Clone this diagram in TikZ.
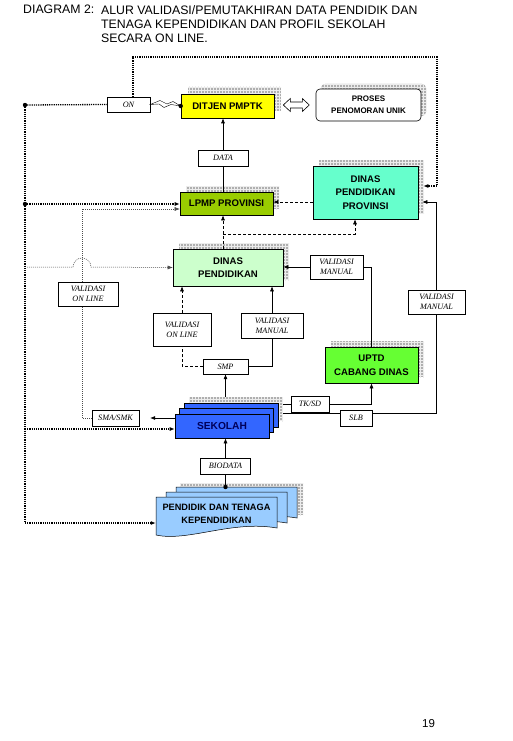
\documentclass[tikz,border=0pt]{standalone}
\usepackage{fontspec}
\setmainfont{Liberation Sans}
\newfontfamily\notefont{Liberation Serif}
\usepackage{tikz}
\usetikzlibrary{arrows.meta, positioning, calc, patterns, shadows}
\definecolor{ditjenyellow}{RGB}{255, 255, 0}
\definecolor{lpmpgreen}{RGB}{153, 204, 0}
\definecolor{provaqua}{RGB}{102, 255, 204}
\definecolor{dinasmint}{RGB}{204, 255, 204}
\definecolor{uptdgreen}{RGB}{102, 255, 51}
\definecolor{sekolahblue}{RGB}{51, 102, 255}
\definecolor{sekolahink}{RGB}{0, 0, 90}
\definecolor{pendblue}{RGB}{153, 204, 255}
\definecolor{shadowgray}{RGB}{175, 175, 175}

\begin{document}
\begin{tikzpicture}[
  x=1pt, y=-1pt,
  >={Latex[length=5pt, width=4pt]},
  flowbox/.style={draw, line width=0.6pt, inner sep=0pt, align=center, font=\bfseries\fontsize{9.6}{13.5}\selectfont},
  gridshadow/.style={general shadow={shadow xshift=#1, shadow yshift=#1, fill=shadowgray},
    general shadow={shadow xshift=#1, shadow yshift=#1, pattern=grid, pattern color=white!85!gray}},
  gridshadow/.default=6pt,
  notebox/.style={draw, line width=0.4pt, fill=white, inner sep=0pt, align=center, font=\notefont\itshape\fontsize{8.2}{10}\selectfont},
  thickdot/.style={line width=1.3pt, dash pattern=on 1.2pt off 1pt},
  thindot/.style={line width=0.5pt, black!70, dash pattern=on 1pt off 1pt},
  dashline/.style={line width=0.6pt, dash pattern=on 3pt off 2pt},
  link/.style={line width=0.6pt}
]
  \fill[white] (0,0) rectangle (512,741);
  \useasboundingbox (0,0) rectangle (512,741);

  % title and page number
  \node[anchor=north west, inner sep=0pt, font=\fontsize{12.3}{14}\selectfont] (titlehead) at (23,5) {DIAGRAM 2:};
  \node[anchor=north west, inner sep=0pt, align=left, font=\fontsize{12.3}{14}\selectfont] (titlebody) at (101,5) {
    ALUR VALIDASI/PEMUTAKHIRAN DATA PENDIDIK DAN\\
    TENAGA KEPENDIDIKAN DAN PROFIL SEKOLAH\\
    SECARA ON LINE.
  };
  \node[font=\fontsize{11.5}{13}\selectfont] (pagenum) at (428.5,724) {19};

  % main boxes
  \node[flowbox, gridshadow=7pt, fill=ditjenyellow, minimum width=93pt, minimum height=24pt] (ditjen) at (227.5,106) {DITJEN PMPTK};
  \node[flowbox, rounded corners=4pt, gridshadow=5pt, fill=white, minimum width=105pt, minimum height=32pt,
    font=\bfseries\fontsize{8}{12}\selectfont] (proses) at (368.5,105) {PROSES\\PENOMORAN UNIK};
  \node[flowbox, gridshadow, fill=lpmpgreen, minimum width=93pt, minimum height=23pt] (lpmp) at (226.5,203.5) {LPMP PROVINSI};
  \node[flowbox, gridshadow, fill=provaqua, minimum width=105pt, minimum height=53pt] (dinasprov) at (365.5,192.5) {DINAS\\PENDIDIKAN\\PROVINSI};
  \node[flowbox, gridshadow, fill=dinasmint, minimum width=110pt, minimum height=37pt] (dinaspend) at (228,267.5) {DINAS\\PENDIDIKAN};
  \node[flowbox, gridshadow, fill=uptdgreen, minimum width=93pt, minimum height=36pt] (uptd) at (371.5,365) {UPTD\\CABANG DINAS};
  \node[flowbox, fill=sekolahblue, text=sekolahink, minimum width=94pt, minimum height=24pt,
    font=\bfseries\fontsize{10.2}{12}\selectfont,
    general shadow={shadow xshift=14pt, shadow yshift=17pt, fill=shadowgray},
    general shadow={shadow xshift=14pt, shadow yshift=17pt, pattern=grid, pattern color=white!85!gray},
    double copy shadow={shadow xshift=4.5pt, shadow yshift=5.5pt}] (sekolah) at (222,426) {SEKOLAH};

  % stacked documents
  \fill[shadowgray] (180,483) rectangle (303,515);
  \fill[pattern=grid, pattern color=white!85!gray] (180,483) rectangle (303,515);
  \foreach \dx/\dy in {20/-10, 10/-5, 0/0}
    \draw[fill=pendblue, line width=0.5pt, shift={(\dx,\dy)}]
      (156,497) -- (277,497) -- (277,528) .. controls (232,520) and (188,542) .. (156,535) -- cycle;
  \node[inner sep=0pt, align=center, minimum width=121pt, minimum height=38pt,
    font=\bfseries\fontsize{9.2}{13}\selectfont] (pendidik) at (216.5,514) {PENDIDIK DAN TENAGA\\KEPENDIDIKAN};

  % labels
  \node[notebox, minimum width=43pt, minimum height=15pt] (on) at (128.5,104.5) {ON};
  \node[notebox, minimum width=50pt, minimum height=16pt] (data) at (223,158) {DATA};
  \node[notebox, minimum width=53pt, minimum height=24pt] (vmtop) at (336.5,267) {VALIDASI\\MANUAL};
  \node[notebox, minimum width=60pt, minimum height=24pt] (volleft) at (88,294) {VALIDASI\\ON LINE};
  \node[notebox, minimum width=58pt, minimum height=33pt] (volmid) at (182,329.5) {VALIDASI\\ON LINE};
  \node[notebox, minimum width=62pt, minimum height=25pt] (vmmid) at (272,325.5) {VALIDASI\\MANUAL};
  \node[notebox, minimum width=57pt, minimum height=24pt] (vmright) at (436.5,302) {VALIDASI\\MANUAL};
  \node[notebox, minimum width=45pt, minimum height=15pt] (smp) at (225.5,366.5) {SMP};
  \node[notebox, minimum width=38pt, minimum height=16pt] (tksd) at (310,404) {TK/SD};
  \node[notebox, minimum width=32pt, minimum height=16pt] (slb) at (356,418) {SLB};
  \node[notebox, minimum width=47pt, minimum height=16pt] (smasmk) at (115.5,418) {SMA/SMK};
  \node[notebox, minimum width=50pt, minimum height=16pt] (biodata) at (225.5,466) {BIODATA};

  % points
  \coordinate (lefttop) at (25,105);
  \coordinate (leftlpmp) at (25,204);
  \coordinate (leftsek) at (25,429);
  \coordinate (leftbot) at (25,523);
  \coordinate (looptr) at (437,57);
  \coordinate (hopstart) at (27,267);
  \coordinate (dpsplit) at (223,234);
  \coordinate (sektop) at ([yshift=17pt]sekolah.north);
  \coordinate (slbin) at ([xshift=14pt, yshift=13pt]sekolah.east);
  \coordinate (pendtop) at (225.5,487);

  % dotted on line paths
  \draw[thickdot] (lefttop) -- (leftbot);
  \draw[thickdot] (lefttop) -- (on.west);
  \draw[thickdot, ->] (leftlpmp) -- (leftlpmp -| lpmp.west);
  \draw[thickdot, ->] (leftsek) -- (leftsek -| sekolah.west);
  \draw[thickdot, ->] (leftbot) -- (leftbot -| pendidik.west);
  \draw[thickdot, ->] ([xshift=4.5pt]on.north) |- (looptr) |- ([xshift=5pt, yshift=6.5pt]dinasprov.east);
  \fill (lefttop) circle (2.2pt);
  \fill (leftlpmp) circle (2.2pt);

  \draw[thindot, ->] (hopstart) -- (73,267) arc[start angle=180, end angle=0, radius=9pt] -- (dinaspend.west);
  \draw[thindot] (smasmk.west) -| ([xshift=-6pt]volleft.south);
  \draw[thindot, ->] ([xshift=-6pt]volleft.north) |- ([yshift=-5.5pt]lpmp.west);

  % ditjen links
  \draw[link, fill=white] ($(ditjen.east)+(9,-1)$) -- ++(7,-6.5) -- ++(0,3.5) -- ++(12,0) -- ++(0,-3.5) -- ++(7,6.5)
    -- ++(-7,6.5) -- ++(0,-3.5) -- ++(-12,0) -- ++(0,3.5) -- cycle;
  \draw[line width=0.4pt] (on.east) -- (160,100.5) -- (167,104) -- (173,101.5) -- (ditjen.west)
    -- (171,104.5) -- (164,107.5) -- (159,104) -- cycle;
  \fill (ditjen.west) circle (2.2pt);
  \draw[link] (data.south) -- (data.south |- lpmp.north);
  \draw[link, ->] (data.north) -- (data.north |- ditjen.south);

  % provinsi and dinas
  \draw[dashline, ->] ([yshift=-9.5pt]dinasprov.west) -- ([yshift=-9.5pt]dinasprov.west -| lpmp.east);
  \draw[dashline] (dinaspend.north -| dpsplit) -- (dpsplit);
  \draw[dashline, ->] (dpsplit) -- (dpsplit |- lpmp.south);
  \draw[dashline, ->] (dpsplit) -| ([xshift=-10.5pt]dinasprov.south);
  \draw[link] (uptd.north) |- (vmtop.east);
  \draw[link, ->] (vmtop.west) -- (vmtop.west -| dinaspend.east);
  \draw[link] (slbin -| slb.east) -| (vmright.south);
  \draw[link, ->] (vmright.north) |- ([xshift=4pt, yshift=-9.5pt]dinasprov.east);

  % sekolah links
  \draw[link, ->] (sektop -| smp.south) -- (smp.south);
  \draw[dashline] (smp.west) -| (volmid.south);
  \draw[dashline, ->] (volmid.north) -- (volmid.north |- dinaspend.south);
  \draw[link] (smp.east) -| (vmmid.south);
  \draw[link, ->] (vmmid.north) -- (vmmid.north |- dinaspend.south);
  \draw[link] ([xshift=14pt, yshift=22pt]sekolah.east) -- (tksd.west);
  \draw[link, ->] (tksd.east) -| (uptd.south);
  \draw[link] (slbin) -- (slbin -| slb.west);
  \draw[link, ->, shorten >=11pt] ([yshift=8pt]sekolah.west) -- (smasmk.east);
  \fill (pendtop) circle (2.2pt);
  \draw[link] (pendtop) -- (pendtop |- biodata.south);
  \draw[link, ->] (biodata.north) -- (biodata.north |- sekolah.south);
\end{tikzpicture}
\end{document}
